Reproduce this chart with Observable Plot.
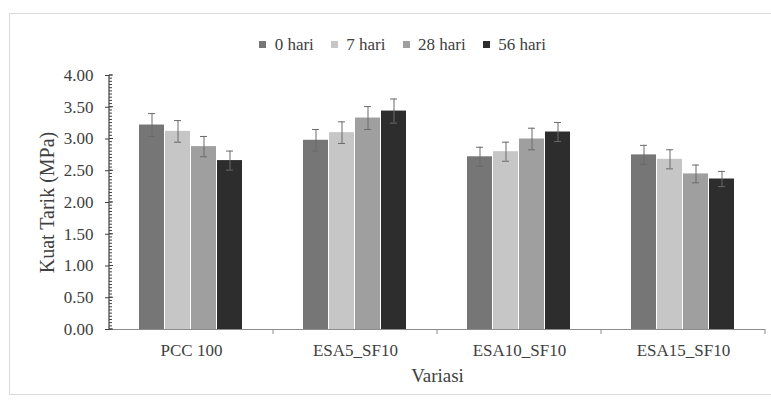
<!DOCTYPE html>
<html>
<head>
<meta charset="utf-8">
<script src="https://cdn.jsdelivr.net/npm/d3@7"></script>
<script src="https://cdn.jsdelivr.net/npm/@observablehq/plot@0.6"></script>
<style>
  html, body { margin: 0; padding: 0; background: #fff; }
  body { width: 771px; height: 405px; overflow: hidden; position: relative; font-family: "Liberation Serif", serif; }
  #frame { position: absolute; left: 9px; top: 13px; width: 784px; height: 382px; border: 1px solid #d9d9d9; box-sizing: border-box; }
  #legend { position: absolute; top: 28px; left: 10px; width: 802px; display: flex; justify-content: center; }
  #chart { position: absolute; left: 0; top: 55px; }
</style>
</head>
<body>
<div id="frame"></div>
<div id="legend"></div>
<div id="chart"></div>
<script>
const categories = ["PCC 100", "ESA5_SF10", "ESA10_SF10", "ESA15_SF10"];
const series = ["0 hari", "7 hari", "28 hari", "56 hari"];
const colors = ["#767676", "#c6c6c6", "#9f9f9f", "#2d2d2d"];
const day0 = [3.22, 2.98, 2.72, 2.75];
const day7 = [3.12, 3.10, 2.80, 2.68];
const day28 = [2.88, 3.33, 3.00, 2.45];
const day56 = [2.66, 3.44, 3.11, 2.37];
const err0 = [0.18, 0.17, 0.15, 0.15];
const err7 = [0.17, 0.17, 0.15, 0.15];
const err28 = [0.16, 0.18, 0.17, 0.14];
const err56 = [0.15, 0.19, 0.15, 0.12];
const yTicks = [0, 0.5, 1, 1.5, 2, 2.5, 3, 3.5, 4];
const yMinorTicks = d3.range(0, 81).map(i => i / 20);

const seriesValues = [day0, day7, day28, day56];
const seriesErrors = [err0, err7, err28, err56];
const data = [];
categories.forEach((c, ci) => {
  series.forEach((s, si) => {
    data.push({cat: c, s, v: seriesValues[si][ci], e: seriesErrors[si][ci]});
  });
});

const FONT = "'Liberation Serif', 'DejaVu Serif', serif";
const plot = Plot.plot({
  width: 771, height: 334,
  marginLeft: 108, marginRight: 6, marginTop: 20, marginBottom: 60,
  style: "font-family: 'Liberation Serif', serif; font-size: 17px; color: #404040; background: transparent;",
  fx: {domain: categories, padding: 0, axis: null},
  x: {domain: series, paddingInner: 0.03, paddingOuter: 1.1, axis: null},
  y: {domain: [0, 4], axis: null},
  color: {domain: series, range: colors},
  marks: [
    Plot.barY(data, {fx: "cat", x: "s", y: "v", fill: "s"}),
    Plot.ruleX(data, {fx: "cat", x: "s", y1: d => d.v - d.e, y2: d => d.v + d.e, stroke: "#6a6a6a", strokeWidth: 1}),
    Plot.tickY(data, {fx: "cat", x: "s", y: d => d.v + d.e, stroke: "#6a6a6a", inset: 9}),
    Plot.tickY(data, {fx: "cat", x: "s", y: d => d.v - d.e, stroke: "#6a6a6a", inset: 9}),
    Plot.ruleY([0], {stroke: "#8c8c8c", strokeWidth: 1.2}),
    Plot.axisFx({anchor: "bottom", tickSize: 0, tickPadding: 14, fontSize: 17, label: "Variasi", labelArrow: "none", labelAnchor: "center", labelOffset: 52}),
    Plot.axisY({ticks: yTicks, tickFormat: d3.format(".2f"), tickSize: 4, tickPadding: 12, fontSize: 17, label: "Kuat Tarik (MPa)", labelArrow: "none", labelAnchor: "center", labelOffset: 70, stroke: "#404040"})
  ]
});
document.getElementById("chart").appendChild(plot);

const fx = plot.scale("fx");
const y = plot.scale("y");
const svg = d3.select(plot);
svg.selectAll("g").attr("font-variant", null);
svg.selectAll("text").each(function() {
  const t = d3.select(this);
  const s = t.text();
  let size = "17px";
  if (s.includes("Kuat Tarik")) size = "20px";
  if (s.includes("Variasi")) size = "19px";
  t.style("font-family", FONT).style("font-size", size).style("font-variant", "normal");
});
const y0 = y.apply(0), y4 = y.apply(4);
const left = fx.apply(categories[0]);
const g = svg.append("g").attr("stroke", "#404040");
g.append("line").attr("x1", left).attr("x2", left).attr("y1", y4).attr("y2", y0).attr("stroke-width", 1.2);
yMinorTicks.forEach(t => {
  g.append("line").attr("x1", left).attr("x2", left + 3).attr("y1", y.apply(t)).attr("y2", y.apply(t));
});
yTicks.forEach(t => {
  g.append("line").attr("x1", left).attr("x2", left + 4).attr("y1", y.apply(t)).attr("y2", y.apply(t));
});
const edges = categories.map(c => fx.apply(c) + fx.bandwidth);
edges.forEach(x => {
  svg.append("line").attr("x1", x).attr("x2", x).attr("y1", y0).attr("y2", y0 + 5)
    .attr("stroke", "#8c8c8c").attr("stroke-width", 1);
});

const leg = plot.legend("color", {swatchSize: 7, swatchWidth: 7, swatchHeight: 7});
document.getElementById("legend").appendChild(leg);
d3.select(leg).style("font-family", FONT).style("font-size", "17px").style("font-variant", "normal").style("color", "#404040");
d3.select(leg).selectAll("*").style("font-family", FONT).style("font-size", "17px").style("font-variant", "normal");
</script>
</body>
</html>
